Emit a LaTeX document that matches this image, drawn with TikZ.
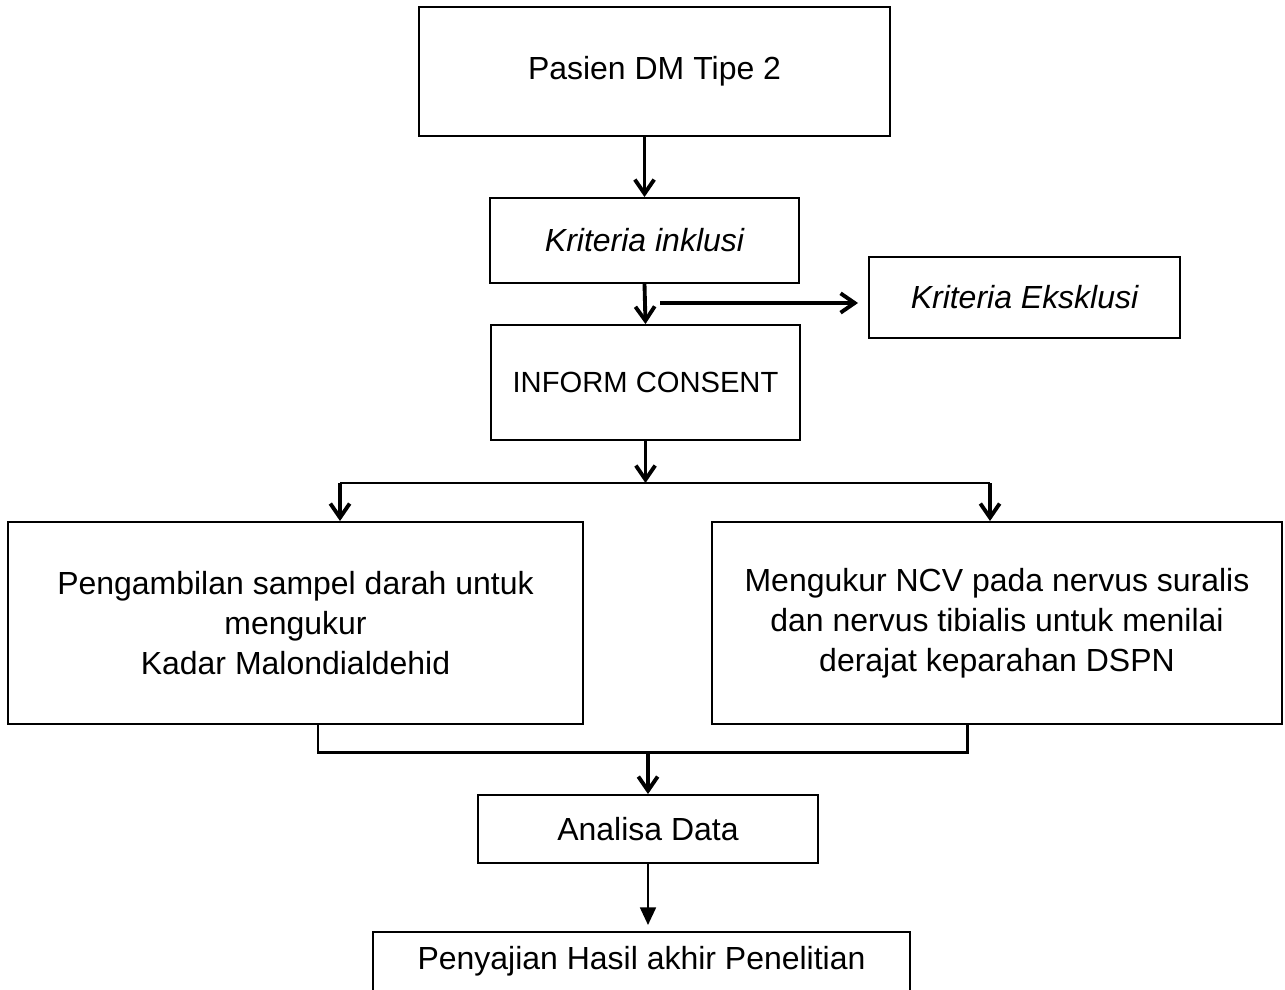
\documentclass[tikz,border=0pt]{standalone}
\usepackage{fontspec}
\setmainfont{Liberation Sans}
\usepackage{tikz}
\usetikzlibrary{arrows.meta,positioning}

\begin{document}
\begin{tikzpicture}[>={Straight Barb[length=8pt,width=11pt]},
    font=\fontsize{18.2}{22.7}\selectfont,
    box/.style={draw,line width=1.1pt,align=center,inner sep=0pt},
    flow/.style={->,line width=2.2pt},
    merge/.style={line width=1.7pt}]
      \useasboundingbox (0,0) rectangle (25.7,-19.78);
      \node[box,minimum width=9.42cm,minimum height=2.58cm] (pasien) at (13.09,-1.43) {Pasien DM Tipe 2};
      \node[box,minimum width=6.18cm,minimum height=1.70cm] (inklusi) at (12.89,-4.81) {\itshape Kriteria inklusi};
      \node[box,minimum width=6.22cm,minimum height=1.62cm] (eksklusi) at (20.49,-5.95) {\itshape Kriteria Eksklusi};
      \node[box,minimum width=6.18cm,minimum height=2.30cm,font=\fontsize{16.6}{20}\selectfont] (consent) at (12.91,-7.65) {INFORM CONSENT};
      \node[box,minimum width=11.5cm,minimum height=4.04cm] (sampel) at (5.91,-12.46)
        {Pengambilan sampel darah untuk\\mengukur\\Kadar Malondialdehid};
      \node[box,minimum width=11.4cm,minimum height=4.04cm] (ncv) at (19.94,-12.46)
        {Mengukur NCV pada nervus suralis\\dan nervus tibialis untuk menilai\\derajat keparahan DSPN};
      \node[box,minimum width=6.8cm,minimum height=1.36cm] (analisa) at (12.96,-16.58) {Analisa Data};
      \node[box,minimum width=10.74cm,text height=0.76cm,text depth=1.2cm,anchor=north] (hasil) at (12.83,-18.62)
        {Penyajian Hasil akhir Penelitian};
      % alur utama
      \draw[flow] (inklusi.north |- pasien.south) -- (inklusi.north);
      \draw[flow] (inklusi.south) -- (consent.north);
      \coordinate (keluar) at (13.2,-6.06);
      \draw[flow,shorten >=0.2cm] (keluar) -- (keluar -| eksklusi.west);
      % percabangan
      \coordinate (cabang) at (consent.south |- 0,-9.66);
      \coordinate (kiri) at (6.8,-9.66);
      \coordinate (kanan) at (19.8,-9.66);
      \draw[flow] (consent.south) -- (cabang);
      \draw[merge] (kiri) -- (kanan);
      \draw[flow] (kiri) -- (kiri |- sampel.north);
      \draw[flow] (kanan) -- (kanan |- ncv.north);
      % penggabungan
      \coordinate (gabungkiri) at (6.36,-15.04);
      \coordinate (gabungkanan) at (19.34,-15.04);
      \coordinate (gabung) at (12.96,-15.04);
      \draw[merge] (gabungkiri |- sampel.south) -- (gabungkiri) -- (gabungkanan) -- (gabungkanan |- ncv.south);
      \draw[flow] (gabung) -- (analisa.north);
      \draw[-{Triangle[length=10pt,width=9pt]},line width=1.3pt,shorten >=0.12cm] (analisa.south) -- (analisa.south |- hasil.north);
    \end{tikzpicture}
\end{document}
